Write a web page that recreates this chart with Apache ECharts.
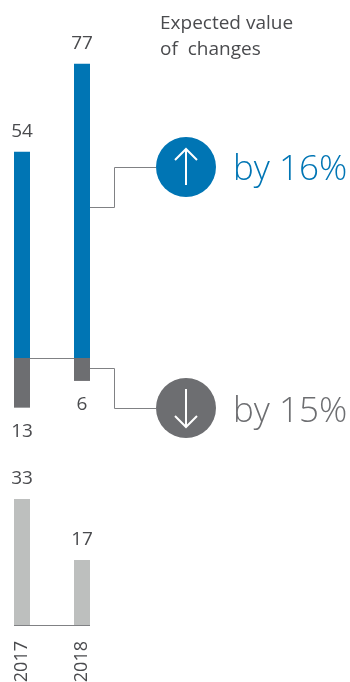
<!DOCTYPE html>
<html>
<head>
<meta charset="utf-8">
<style>html,body{margin:0;padding:0;background:#fff}#c{width:350px;height:682px}</style>
<script src="https://cdn.jsdelivr.net/npm/echarts@6/dist/echarts.min.js"></script>
</head>
<body>
<div id="c"></div>
<script>
const years = ['2017', '2018'];
const increases = [54, 77];
const decreases = [13, 6];
const totals = [33, 17];
const heading = ['Expected value', 'of  changes'];
const upChange = 'by 16%';
const downChange = 'by 15%';

const FONT = '"Open Sans", sans-serif';
const BLUE = '#0075b4';
const GREY = '#6d6e71';
const LIGHT = '#bdbfbe';
const RULE = '#808184';
const INK = '#4a4b4e';

const chart = echarts.init(document.getElementById('c'), null, { renderer: 'canvas' });

const valueLabel = (position, distance) => ({
  show: true, position, distance,
  fontFamily: FONT, fontSize: 19, color: INK,
  formatter: p => String(Math.abs(p.value))
});

const hiddenAxis = { show: false };

chart.setOption({
  animation: false,
  grid: [
    { left: -8, width: 120, top: 52.4, height: 382, outerBoundsMode: 'none' },
    { left: -8, width: 120, top: 472.2, height: 152.8, outerBoundsMode: 'none' }
  ],
  xAxis: [
    { type: 'category', gridIndex: 0, data: years, show: false },
    {
      type: 'category', gridIndex: 1, data: years,
      axisLine: { show: false }, axisTick: { show: false },
      axisLabel: { rotate: 90, margin: 16, fontFamily: FONT, fontSize: 18, color: INK }
    }
  ],
  yAxis: [
    { type: 'value', gridIndex: 0, min: -20, max: 80, ...hiddenAxis },
    { type: 'value', gridIndex: 1, min: 0, max: 40, ...hiddenAxis }
  ],
  series: [
    {
      type: 'bar', xAxisIndex: 0, yAxisIndex: 0, barWidth: 16, barGap: '-100%',
      data: increases, itemStyle: { color: BLUE }, label: valueLabel('top', 11)
    },
    {
      type: 'bar', xAxisIndex: 0, yAxisIndex: 0, barWidth: 16, barGap: '-100%',
      data: decreases.map(v => -v), itemStyle: { color: GREY }, label: valueLabel('bottom', 14)
    },
    {
      type: 'bar', xAxisIndex: 1, yAxisIndex: 1, barWidth: 16,
      data: totals, itemStyle: { color: LIGHT }, label: valueLabel('top', 11)
    }
  ]
});

// Rules, connectors and change badges sit on top of the bars.
const segment = pts => ({
  type: 'polyline', silent: true,
  shape: { points: pts },
  style: { stroke: RULE, lineWidth: 1, fill: null }
});

const arrow = (x, tipY, tailY, wing) => {
  const dir = tailY > tipY ? 1 : -1;
  return [
    { type: 'polyline', silent: true, shape: { points: [[x, tipY], [x, tailY]] },
      style: { stroke: '#fff', lineWidth: 2, fill: null } },
    { type: 'polyline', silent: true,
      shape: { points: [[x - wing, tipY + dir * wing], [x, tipY], [x + wing, tipY + dir * wing]] },
      style: { stroke: '#fff', lineWidth: 2, fill: null } }
  ];
};

const badge = (cx, cy, color) => ({
  type: 'circle', silent: true,
  shape: { cx, cy, r: 30 },
  style: { fill: color }
});

const bigText = (text, y, color) => ({
  type: 'text', silent: true, x: 233, y,
  style: {
    text, fill: color, font: '300 35px ' + FONT,
    verticalAlign: 'middle', align: 'left'
  }
});

const headingLines = heading.map((text, i) => ({
  type: 'text', silent: true, x: 160, y: 24 + i * 25.5,
  style: { text, fill: INK, font: '19px ' + FONT, verticalAlign: 'middle', align: 'left' }
}));

const zeroTop = chart.convertToPixel({ gridIndex: 0 }, [0, 0]);
const zeroLow = chart.convertToPixel({ gridIndex: 1 }, [0, 0]);

chart.setOption({
  graphic: [
    segment([[14, Math.round(zeroTop[1]) + 0.5], [90, Math.round(zeroTop[1]) + 0.5]]),
    segment([[14, Math.round(zeroLow[1]) + 0.5], [90, Math.round(zeroLow[1]) + 0.5]]),
    segment([[90, 207.5], [114.5, 207.5], [114.5, 167.5], [156, 167.5]]),
    segment([[90, 368.5], [114.5, 368.5], [114.5, 408.5], [156, 408.5]]),
    badge(186, 167, BLUE),
    badge(186, 408, GREY),
    ...arrow(186, 149, 185, 11),
    ...arrow(186, 427, 389, 11),
    bigText(upChange, 170, BLUE),
    bigText(downChange, 412, GREY),
    ...headingLines
  ]
});
</script>
</body>
</html>
